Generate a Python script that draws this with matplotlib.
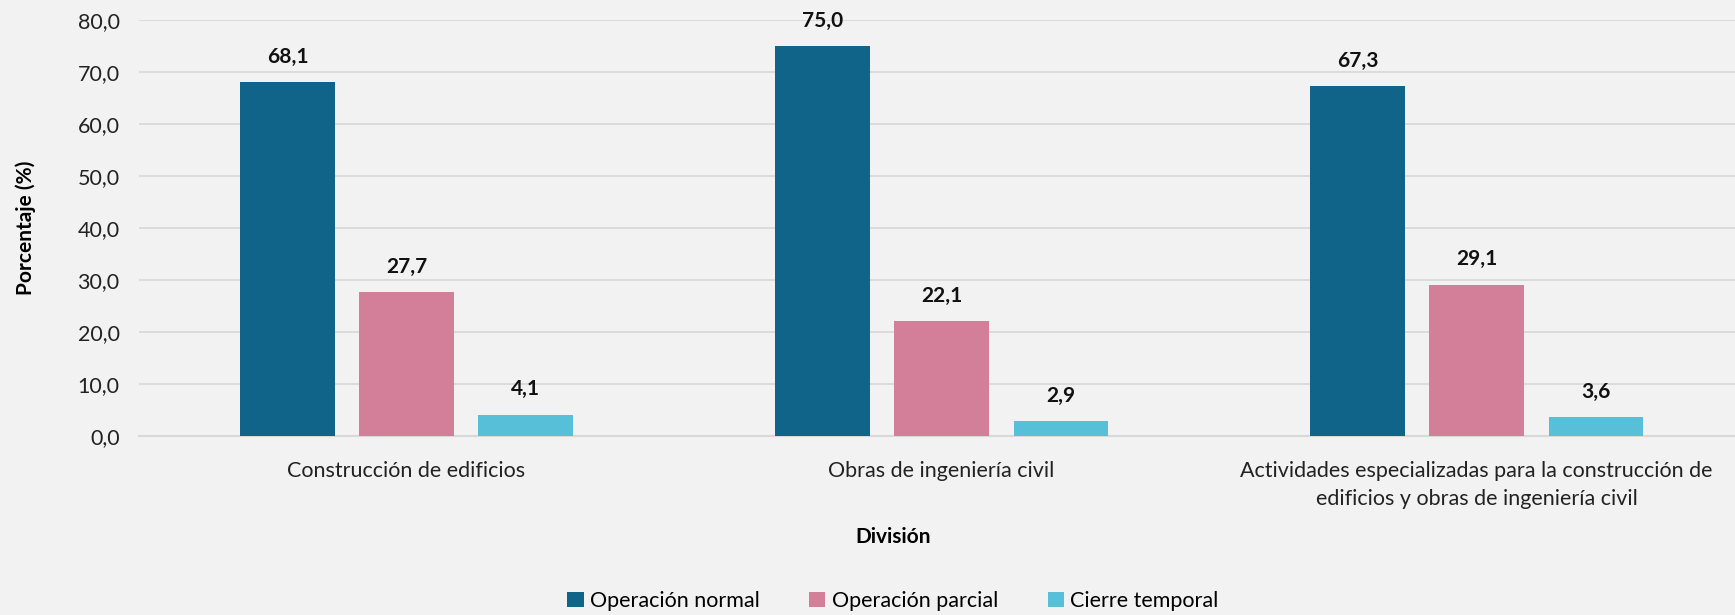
import numpy as np
import matplotlib
matplotlib.use('Agg')
import matplotlib.pyplot as plt
import matplotlib.ticker as mticker

plt.rcParams.update({'font.family': ['Lato', 'DejaVu Sans'], 'font.size': 15})

# ---- datos ----
categorias = ['Construcción de edificios', 'Obras de ingeniería civil',
              'Actividades especializadas para la construcción de\nedificios y obras de ingeniería civil']
series = ['Operación normal', 'Operación parcial', 'Cierre temporal']
normal = [68.1, 75.0, 67.3]
parcial = [27.7, 22.1, 29.1]
cierre = [4.1, 2.9, 3.6]
colores = ['#106489', '#D47F9A', '#57BFD7']

BG = '#F2F2F2'
fig = plt.figure(figsize=(17.35, 6.15), dpi=100, facecolor=BG)
ax = fig.add_axes([139/1735, 1-436/615, 1-139/1735, (436-20)/615], facecolor=BG)

x = np.arange(len(categorias))
w, step = 0.176, 0.2225
for k, (vals, col, lab) in enumerate(zip([normal, parcial, cierre], colores, series)):
    bars = ax.bar(x + (k-1)*step, vals, w, color=col, label=lab, zorder=3)
    for b, v in zip(bars, vals):
        ax.annotate(f'{v:.1f}'.replace('.', ','), (b.get_x()+b.get_width()/2, v),
                    xytext=(0, 11), textcoords='offset points', ha='center', va='bottom',
                    fontsize=15, fontweight='bold', color='#111')

ax.set_xlim(-0.5, 2.483); ax.set_ylim(0, 80)
ax.set_yticks(np.arange(0, 81, 10))
ax.yaxis.set_major_formatter(mticker.FuncFormatter(lambda v, p: f'{v:.1f}'.replace('.', ',')))
ax.grid(axis='y', color='#D9D9D9', lw=1.3, zorder=0)
ax.set_xticks(x); ax.set_xticklabels(categorias, fontsize=15.5, color='#222', linespacing=1.5)
ax.tick_params(axis='both', length=0, colors='#222', labelsize=15.5)
ax.tick_params(axis='x', pad=18)
ax.tick_params(axis='y', pad=14)
for s in ['top', 'right', 'left']: ax.spines[s].set_visible(False)
ax.spines['bottom'].set_color('#D9D9D9'); ax.spines['bottom'].set_linewidth(1.5)

ax.set_ylabel('Porcentaje (%)', fontsize=15, fontweight='bold', labelpad=30)
fig.text(893/1735, 1-537/615, 'División', ha='center', va='center', fontsize=15, fontweight='bold')
fig.legend(loc='center', bbox_to_anchor=(893/1735, 1-601/615), ncol=3, frameon=False,
           fontsize=15.5, handlelength=0.75, handleheight=0.75, handletextpad=0.3, columnspacing=2.3)

fig.savefig('out.png', dpi=100, facecolor=BG)
